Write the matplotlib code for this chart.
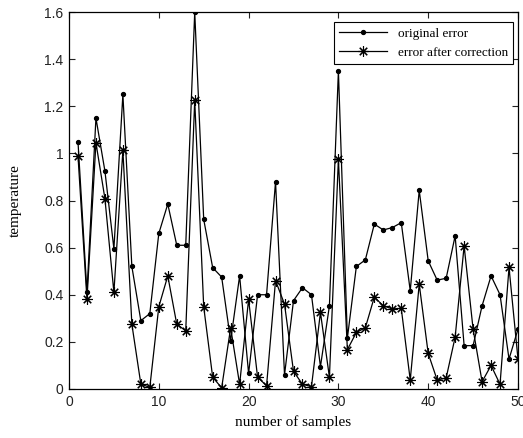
import matplotlib
matplotlib.use("Agg")
import matplotlib.pyplot as plt
from matplotlib.ticker import FuncFormatter

samples = list(range(1, 51))
original_error = [1.05, 0.41, 1.15, 0.925, 0.595, 1.25, 0.52, 0.29, 0.32, 0.66,
                  0.785, 0.61, 0.61, 1.6, 0.72, 0.515, 0.475, 0.205, 0.48, 0.066,
                  0.40, 0.40, 0.88, 0.06, 0.375, 0.43, 0.40, 0.095, 0.353, 1.35,
                  0.216, 0.52, 0.548, 0.70, 0.675, 0.685, 0.706, 0.417, 0.843, 0.544,
                  0.462, 0.47, 0.65, 0.184, 0.184, 0.353, 0.48, 0.40, 0.127, 0.254]
corrected_error = [0.99, 0.38, 1.045, 0.808, 0.41, 1.013, 0.275, 0.021, 0.007, 0.349,
                   0.48, 0.275, 0.247, 1.225, 0.349, 0.05, 0.005, 0.26, 0.02, 0.38,
                   0.05, 0.014, 0.46, 0.36, 0.075, 0.02, 0.01, 0.325, 0.05, 0.975,
                   0.167, 0.24, 0.26, 0.39, 0.353, 0.34, 0.342, 0.038, 0.445, 0.151,
                   0.038, 0.047, 0.22, 0.607, 0.254, 0.031, 0.10, 0.02, 0.516, 0.127]
series_labels = ["original error", "error after correction"]
x_ticks = [0, 10, 20, 30, 40, 50]
y_ticks = [0, 0.2, 0.4, 0.6, 0.8, 1.0, 1.2, 1.4, 1.6]

fig = plt.figure(figsize=(5.23, 4.38), dpi=100)
ax = fig.add_axes([69/523, 1-389/438, 449/523, 377/438])

ax.plot(samples, original_error, color="black", lw=0.9, marker="o", ms=2.8,
        mfc="black", mec="black", label=series_labels[0])
ax.plot(samples, corrected_error, color="black", lw=0.9, marker=(8, 2, 0), ms=7.5,
        mfc="none", mec="black", mew=0.8, label=series_labels[1])

ax.set_xlim(0, 50)
ax.set_ylim(0, 1.6)
ax.set_xticks(x_ticks)
ax.set_yticks(y_ticks)
ax.yaxis.set_major_formatter(FuncFormatter(lambda v, p: f"{v:g}"))
ax.tick_params(direction="in", top=True, right=True, length=4, width=0.8,
               labelsize=10, colors="#222222", pad=4)
for lab in ax.get_xticklabels() + ax.get_yticklabels():
    lab.set_family(["Liberation Sans", "DejaVu Sans"])
for s in ax.spines.values():
    s.set_linewidth(0.9)
    s.set_color("black")

ax.set_xlabel("number of samples", family=["Liberation Serif", "DejaVu Serif"],
              fontsize=11, labelpad=5)
ax.set_ylabel("temperature", family=["Liberation Serif", "DejaVu Serif"],
              fontsize=11, labelpad=16)

leg = ax.legend(loc="upper right", bbox_to_anchor=(0.989, 0.973),
                borderaxespad=0, fancybox=False, framealpha=1, edgecolor="black",
                handlelength=3.6, prop={"family": ["Liberation Serif", "DejaVu Serif"], "size": 9.5},
                borderpad=0.4, labelspacing=0.5)
leg.get_frame().set_linewidth(0.8)

fig.savefig("out.png", dpi=100)
